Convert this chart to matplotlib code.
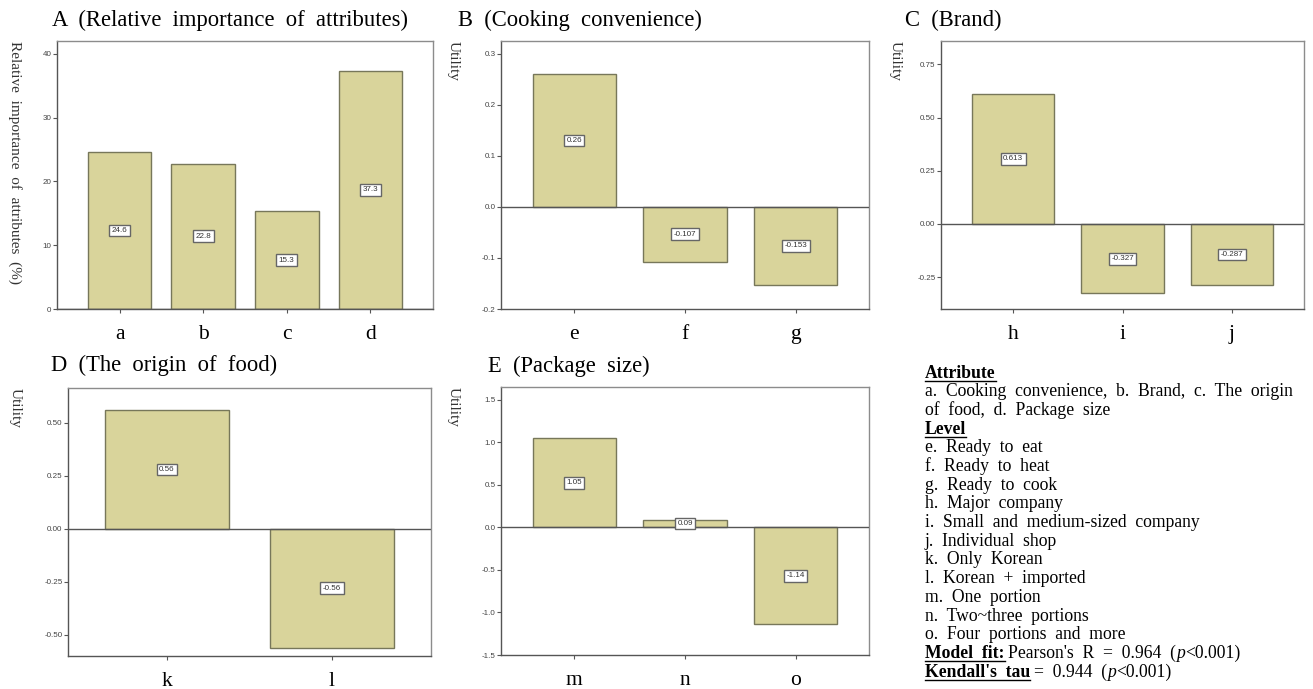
import matplotlib
matplotlib.use("Agg")
import matplotlib.pyplot as plt

plt.rcParams['font.family'] = ['Liberation Serif', 'DejaVu Serif']

W, H = 1313, 689
BAR = '#d9d49b'
EDGE = '#77775a'
FRAME = '#8c8c8c'

# --- data ---
attr_labels = ['a', 'b', 'c', 'd']
attr_importance = [24.6, 22.8, 15.3, 37.3]

cook_labels = ['e', 'f', 'g']
cook_utility = [0.26, -0.107, -0.153]

brand_labels = ['h', 'i', 'j']
brand_utility = [0.613, -0.327, -0.287]

origin_labels = ['k', 'l']
origin_utility = [0.56, -0.56]

pack_labels = ['m', 'n', 'o']
pack_utility = [1.05, 0.09, -1.14]

legend_lines = [
    'a.  Cooking  convenience,  b.  Brand,  c.  The  origin',
    'of  food,  d.  Package  size',
    None,
    'e.  Ready  to  eat',
    'f.  Ready  to  heat',
    'g.  Ready  to  cook',
    'h.  Major  company',
    'i.  Small  and  medium-sized  company',
    'j.  Individual  shop',
    'k.  Only  Korean',
    'l.  Korean  +  imported',
    'm.  One  portion',
    'n.  Two~three  portions',
    'o.  Four  portions  and  more',
]

fig = plt.figure(figsize=(W / 100, H / 100), dpi=100)


def px_axes(x0, y0, x1, y1):
    return fig.add_axes([x0 / W, 1 - y1 / H, (x1 - x0) / W, (y1 - y0) / H])


def fmt_tick(t, ticks):
    if all(float(v).is_integer() for v in ticks):
        return '{:.0f}'.format(t)
    if any(abs(v * 10 - round(v * 10)) > 1e-9 for v in ticks):
        return '{:.2f}'.format(t)
    return '{:.1f}'.format(t)


def panel(box, labels, values, ylim, ticks, fmt, pad, width, ylabel, title, title_xy):
    ax = px_axes(*box)
    x = list(range(len(labels)))
    ax.bar(x, values, width=width, color=BAR, edgecolor=EDGE, linewidth=1.0, zorder=2)
    ax.axhline(0, color='#555555', linewidth=1.0, zorder=3)
    for xi, v in zip(x, values):
        ax.text(xi, v / 2, fmt.format(v), ha='center', va='center', fontsize=5.8,
                family='Liberation Sans', color='#333333', zorder=4,
                bbox=dict(boxstyle='square,pad=0.3', fc='white', ec='#666666', lw=1.0))
    ax.set_xlim(-pad, len(labels) - 1 + pad)
    ax.set_ylim(*ylim)
    ax.set_yticks(ticks)
    ax.set_yticklabels([fmt_tick(t, ticks) for t in ticks], fontsize=5.8,
                       family='Liberation Sans', color='#444444')
    ax.set_xticks(x)
    ax.set_xticklabels(labels, fontsize=15.5)
    ax.tick_params(axis='y', length=3, width=0.8, color='#555555', pad=1)
    ax.tick_params(axis='x', length=3, width=0.8, color='#555555', pad=8.5)
    for s in ax.spines.values():
        s.set_color(FRAME)
        s.set_linewidth(1.0)
    ax.spines['bottom'].set_color('#555555')
    ax.spines['left'].set_color('#555555')
    fig.text(title_xy[0] / W, 1 - title_xy[1] / H, title, fontsize=16.3, va='center', ha='left')
    fig.text(ylabel[1] / W, 1 - box[1] / H, ylabel[0], rotation=270, fontsize=ylabel[2],
             ha='center', va='top', color='#333333')
    return ax


panel((57, 41, 433, 309), attr_labels, attr_importance, (0, 42), [0, 10, 20, 30, 40],
      '{:.1f}', 0.75, 0.76, ('Relative  importance  of  attributes  (%)', 15, 11),
      'A  (Relative  importance  of  attributes)', (52, 20))
panel((501, 41, 869, 309), cook_labels, cook_utility, (-0.2, 0.325),
      [-0.2, -0.1, 0.0, 0.1, 0.2, 0.3], '{:g}', 0.66, 0.75, ('Utility', 453, 11),
      'B  (Cooking  convenience)', (458, 20))
panel((941, 41, 1304, 309), brand_labels, brand_utility, (-0.4, 0.86),
      [-0.25, 0.0, 0.25, 0.5, 0.75], '{:g}', 0.66, 0.75, ('Utility', 895, 11),
      'C  (Brand)', (905, 20))
panel((68, 388, 431, 656), origin_labels, origin_utility, (-0.6, 0.665),
      [-0.5, -0.25, 0.0, 0.25, 0.5], '{:g}', 0.6, 0.75, ('Utility', 15, 11),
      'D  (The  origin  of  food)', (51, 365))
panel((501, 387, 869, 655), pack_labels, pack_utility, (-1.5, 1.65),
      [-1.5, -1.0, -0.5, 0.0, 0.5, 1.0, 1.5], '{:g}', 0.66, 0.75, ('Utility', 453, 11),
      'E  (Package  size)', (488, 366))

# --- legend text block ---
fig.canvas.draw()
renderer = fig.canvas.get_renderer()
FS = 12.7
x0 = 925
y = 373
step = 18.7


def run(x, y, s, underline=False, **kw):
    t = fig.text(x / W, 1 - y / H, s, fontsize=FS, va='center', ha='left', **kw)
    bb = t.get_window_extent(renderer)
    if underline:
        yl = bb.y0 + 1
        fig.add_artist(plt.Line2D([bb.x0 / W, bb.x1 / W], [yl / H, yl / H],
                                  color='black', lw=1.0))
    return bb.x1


run(x0, y, 'Attribute', underline=True, weight='bold')
y += step
for line in legend_lines:
    if line is None:
        run(x0, y, 'Level', underline=True, weight='bold')
    else:
        run(x0, y, line)
    y += step

xe = run(x0, y, 'Model  fit:', underline=True, weight='bold')
xe = run(xe + 4, y, "Pearson's  R  =  0.964  (")
xe = run(xe, y, 'p', style='italic')
run(xe, y, '<0.001)')
y += step
xe = run(x0, y, "Kendall's  tau", underline=True, weight='bold')
xe = run(xe + 4, y, '=  0.944  (')
xe = run(xe, y, 'p', style='italic')
run(xe, y, '<0.001)')

fig.savefig('out.png', dpi=100)
